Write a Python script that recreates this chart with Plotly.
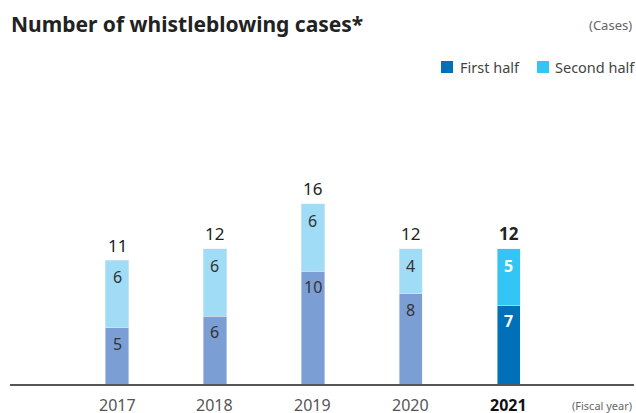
import plotly.graph_objects as go

years = [2017, 2018, 2019, 2020, 2021]
first_half = [5, 6, 10, 8, 7]
second_half = [6, 6, 6, 4, 5]
totals = [a + b for a, b in zip(first_half, second_half)]
tick_labels = ["2017", "2018", "2019", "2020", "2021"]
legend_names = ["First half", "Second half"]

past_first_color = "#7b9fd4"
past_second_color = "#a0dcf6"
cur_first_color = "#0070b8"
cur_second_color = "#33c5f3"

FONT = "Noto Sans"
W = 0.235

# layout geometry in pixels
FW, FH = 636, 413
ML, MR, MT, MB = 10, 2, 80, 29
PW, PH = FW - ML - MR, FH - MT - MB


def px_x(p):
    return (p - ML) / PW


def px_y(p):
    return (FH - MB - p) / PH


fig = go.Figure()
fig.add_trace(go.Bar(x=years[:-1], y=first_half[:-1], width=W, marker_color=past_first_color,
                     showlegend=False, hoverinfo="skip"))
fig.add_trace(go.Bar(x=years[-1:], y=first_half[-1:], width=W, marker_color=cur_first_color,
                     name=legend_names[0], showlegend=False, hoverinfo="skip"))
fig.add_trace(go.Bar(x=years[:-1], y=second_half[:-1], width=W, marker_color=past_second_color,
                     showlegend=False, hoverinfo="skip"))
fig.add_trace(go.Bar(x=years[-1:], y=second_half[-1:], width=W, marker_color=cur_second_color,
                     name=legend_names[1], showlegend=False, hoverinfo="skip"))

annotations = []
for i, yr in enumerate(years):
    last = i == len(years) - 1
    col = "white" if last else "#333333"
    annotations.append(dict(x=yr, y=first_half[i], text=(f"<b>{first_half[i]}</b>" if last else str(first_half[i])),
                            showarrow=False, yanchor="middle", yshift=-16,
                            font=dict(family=FONT, size=16, color=col)))
    annotations.append(dict(x=yr, y=totals[i], text=(f"<b>{second_half[i]}</b>" if last else str(second_half[i])),
                            showarrow=False, yanchor="middle", yshift=-17,
                            font=dict(family=FONT, size=16, color=col)))
    annotations.append(dict(x=yr, y=totals[i], text=(f"<b>{totals[i]}</b>" if last else str(totals[i])),
                            showarrow=False, yanchor="middle", yshift=15,
                            font=dict(family=FONT, size=17, color="#222222")))

# tick labels
for i, yr in enumerate(years):
    last = i == len(years) - 1
    annotations.append(dict(x=yr, y=px_y(405), yref="paper", yanchor="middle",
                            text=(f"<b>{tick_labels[i]}</b>" if last else tick_labels[i]),
                            showarrow=False,
                            font=dict(family=FONT, size=16, color="#111111" if last else "#555555")))

annotations.append(dict(xref="paper", yref="paper", x=1.0, y=px_y(405), xanchor="right", yanchor="middle",
                        text="(Fiscal year)", showarrow=False, font=dict(family=FONT, size=11, color="#666666")))
annotations.append(dict(xref="paper", yref="paper", x=1.0, y=px_y(25), xanchor="right", yanchor="middle",
                        text="(Cases)", showarrow=False, font=dict(family=FONT, size=13, color="#666666")))
annotations.append(dict(xref="paper", yref="paper", x=px_x(9), y=px_y(24), xanchor="left", yanchor="middle",
                        text="<b>Number of whistleblowing cases*</b>", showarrow=False,
                        font=dict(family=FONT, size=21, color="#222222")))

# legend
shapes = []
legend_items = [(441, 458, legend_names[0], cur_first_color), (537, 553, legend_names[1], cur_second_color)]
for sx, tx, name, color in legend_items:
    shapes.append(dict(type="rect", xref="paper", yref="paper", x0=px_x(sx), x1=px_x(sx + 12),
                       y0=px_y(73), y1=px_y(61), fillcolor=color, line=dict(width=0)))
    annotations.append(dict(xref="paper", yref="paper", x=px_x(tx), y=px_y(67), xanchor="left", yanchor="middle",
                            text=name, showarrow=False, font=dict(family=FONT, size=14.5, color="#444444")))

fig.update_layout(
    width=FW, height=FH,
    margin=dict(l=ML, r=MR, t=MT, b=MB),
    barmode="stack",
    showlegend=False,
    plot_bgcolor="white", paper_bgcolor="white",
    font=dict(family=FONT, color="#333333"),
    xaxis=dict(range=[2015.908, 2022.276], showticklabels=False,
               showline=True, linecolor="#555555", linewidth=1.5, showgrid=False, ticks="",
               zeroline=False, fixedrange=True),
    yaxis=dict(range=[0, 27], visible=False, fixedrange=True),
    annotations=annotations,
    shapes=shapes,
)

fig.write_html("out.html", config={"displayModeBar": False},
               post_script="document.body.style.margin='0';document.body.style.overflow='hidden';")
